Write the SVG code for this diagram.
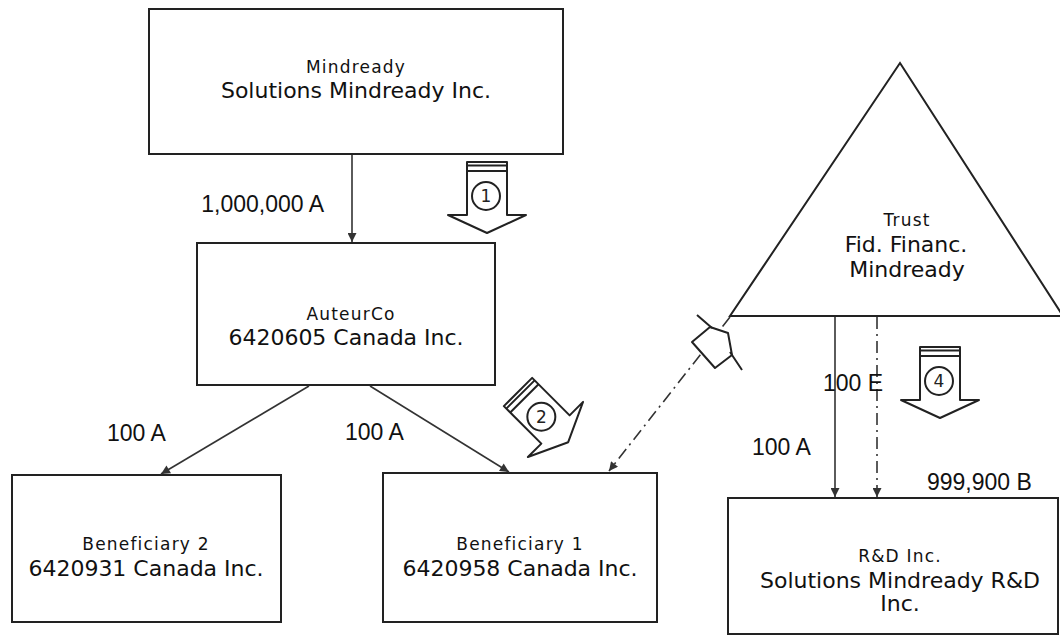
<svg xmlns="http://www.w3.org/2000/svg" width="1060" height="637" viewBox="0 0 1060 637">
<defs>
<style>
.box{fill:#fff;stroke:#222;stroke-width:2}
.con{fill:none;stroke:#333;stroke-width:1.6}
.dd{stroke-dasharray:12 5 2 5}
.sm{font-family:"DejaVu Sans",sans-serif;font-size:17px;letter-spacing:1.2px;fill:#111;text-anchor:middle}
.mn{font-family:"DejaVu Sans",sans-serif;font-size:22px;fill:#111;text-anchor:middle}
.lb{font-family:"Liberation Sans",Arial,sans-serif;font-size:23px;fill:#111}
.blk{fill:#fff;stroke:#222;stroke-width:2;stroke-linejoin:round}
.num{font-family:"DejaVu Sans",sans-serif;font-size:17px;fill:#222;text-anchor:middle}
</style>
<marker id="ah" viewBox="0 0 10 10" refX="10" refY="5" markerWidth="10" markerHeight="9" markerUnits="userSpaceOnUse" orient="auto">
<path d="M0 0 L10 5 L0 10 Z" fill="#333"/>
</marker>
<g id="blockArrow">
<path class="blk" d="M -20 0 H 20 V 53 H 39 L 0 71 L -39 53 H -20 Z"/>
<path class="blk" d="M -20 3.5 H 20 M -20 9 H 20"/>
<circle cx="-1" cy="34" r="14" fill="#fff" stroke="#222" stroke-width="2"/>
</g>
</defs>
<rect width="1060" height="637" fill="#fff"/>

<g id="mindready">
<rect class="box" x="149" y="9" width="414" height="145"/>
<text class="sm" x="356" y="73">Mindready</text>
<text class="mn" x="356" y="98">Solutions Mindready Inc.</text>
</g>

<g id="auteurco">
<rect class="box" x="197" y="243" width="298" height="142"/>
<text class="sm" x="351" y="320">AuteurCo</text>
<text class="mn" x="346" y="345">6420605 Canada Inc.</text>
</g>

<g id="trust">
<path class="box" d="M 900 63 L 1063 316 L 730 316 Z"/>
<text class="sm" x="907" y="226">Trust</text>
<text class="mn" x="906" y="252">Fid. Financ.</text>
<text class="mn" x="907" y="277">Mindready</text>
</g>

<g id="beneficiary2">
<rect class="box" x="12" y="475" width="269" height="147"/>
<text class="sm" x="146" y="550">Beneficiary 2</text>
<text class="mn" x="146" y="576">6420931 Canada Inc.</text>
</g>

<g id="beneficiary1">
<rect class="box" x="383" y="473" width="274" height="149"/>
<text class="sm" x="520" y="550">Beneficiary 1</text>
<text class="mn" x="520" y="576">6420958 Canada Inc.</text>
</g>

<g id="rd">
<rect class="box" x="728" y="498" width="330" height="136"/>
<text class="sm" x="900" y="562">R&amp;D Inc.</text>
<text class="mn" x="900" y="588">Solutions Mindready R&amp;D</text>
<text class="mn" x="900" y="611">Inc.</text>
</g>

<g id="connectors">
<line class="con" x1="352" y1="155" x2="352" y2="242" marker-end="url(#ah)"/>
<line class="con" x1="309" y1="386" x2="161" y2="474" marker-end="url(#ah)"/>
<line class="con" x1="370" y1="386" x2="509" y2="472" marker-end="url(#ah)"/>
<line class="con dd" x1="730" y1="317" x2="609" y2="471" marker-end="url(#ah)"/>
<line class="con" x1="835" y1="317" x2="835" y2="497" marker-end="url(#ah)"/>
<line class="con dd" x1="877" y1="317" x2="877" y2="497" marker-end="url(#ah)"/>
</g>

<g id="labels">
<text class="lb" x="324" y="212" text-anchor="end">1,000,000 A</text>
<text class="lb" x="107" y="441">100 A</text>
<text class="lb" x="345" y="440">100 A</text>
<text class="lb" x="823" y="391">100 E</text>
<text class="lb" x="752" y="455">100 A</text>
<text class="lb" x="927" y="490">999,900 B</text>
</g>

<g id="step1" transform="translate(487,162)">
<use href="#blockArrow"/>
<text class="num" x="-1" y="40">1</text>
</g>
<g id="step2" transform="translate(518,392) rotate(-45)">
<use href="#blockArrow"/>
<text class="num" x="-1" y="40" transform="rotate(45 -1 34)">2</text>
</g>
<g id="step3">
<polygon class="blk" points="710,327 692,342 715,368 732,355 728,333"/>
<path class="blk" d="M 697 315 L 712 328 M 730 352 L 742 370"/>
</g>
<g id="step4" transform="translate(940,347)">
<use href="#blockArrow"/>
<text class="num" x="-1" y="40">4</text>
</g>
</svg>
